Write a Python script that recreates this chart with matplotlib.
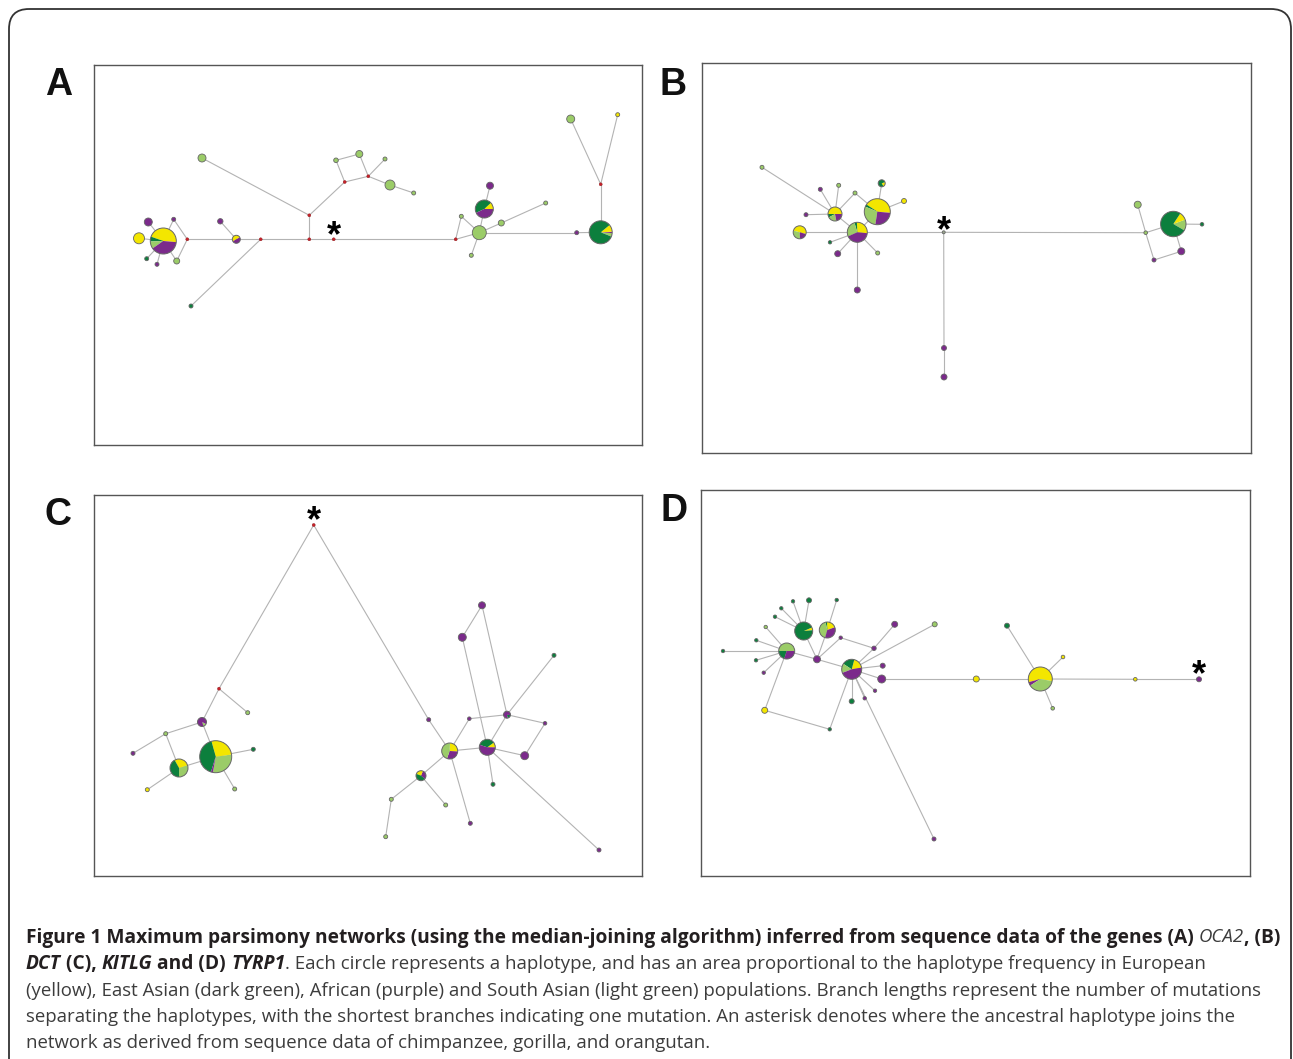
import matplotlib
matplotlib.use("Agg")
import matplotlib.pyplot as plt
from matplotlib.patches import Circle, Wedge, FancyBboxPatch

W, H = 1293, 1059

# population colours
COL = {"Y": "#f3e600", "D": "#0c7f3d", "P": "#7b2a8b", "L": "#9bcc68", "M": "#c8202a", "G": "#9aa890"}

# nodes: (x, y, radius, mix, start angle) -- mix is one population key or a list of (key, share)
A_NODES = [
    (163.3, 241.0, 13, [("Y", .46), ("D", .06), ("L", .09), ("P", .39)], -5),
    (139.0, 238.3, 5.5, "Y", 0), (148.3, 222.0, 4, "P", 0), (173.7, 219.3, 2, "P", 0),
    (146.7, 258.7, 2, "D", 0), (157.0, 264.3, 2, "P", 0), (176.7, 261.0, 3, "L", 0),
    (187.3, 239.3, 1.5, "M", 0),
    (236.3, 239.3, 4, [("Y", .5), ("P", .5)], 30),
    (220.3, 221.3, 2.7, "P", 0), (260.7, 239.3, 1.5, "M", 0), (191.0, 306.0, 2, "D", 0),
    (309.3, 239.3, 1.5, "M", 0), (309.3, 215.3, 1.5, "M", 0), (202.0, 158.0, 4, "L", 0),
    (344.7, 182.0, 1.5, "M", 0), (336.0, 160.3, 2.3, "L", 0), (359.3, 154.0, 3.5, "L", 0),
    (368.3, 176.3, 1.5, "M", 0), (385.0, 159.0, 2, "L", 0), (390.0, 185.0, 5, "L", 0),
    (413.7, 193.0, 2, "L", 0), (333.7, 239.3, 1.5, "M", 0), (455.7, 239.3, 1.5, "M", 0),
    (479.3, 232.7, 7, "L", 0), (461.3, 216.3, 2, "L", 0), (471.3, 255.3, 2, "L", 0),
    (484.3, 209.0, 9, [("Y", .12), ("D", .45), ("P", .43)], 0),
    (490.0, 185.7, 3.5, "P", 0), (501.3, 223.0, 3, "L", 0), (545.7, 203.0, 2, "L", 0),
    (576.7, 232.7, 2, "P", 0),
    (600.7, 232.3, 11.5, [("L", .05), ("P", .02), ("Y", .1), ("D", .83)], -22),
    (600.7, 184.3, 1.5, "M", 0), (570.7, 119.0, 4, "L", 0), (617.7, 114.7, 2, "Y", 0),
]
A_EDGES = [(0, 1), (0, 2), (0, 3), (0, 4), (0, 5), (0, 6), (3, 7), (6, 7), (7, 8), (8, 9),
           (8, 10), (10, 11), (10, 12), (12, 13), (13, 14), (13, 15), (15, 16), (16, 17),
           (17, 18), (15, 18), (18, 19), (18, 20), (20, 21), (12, 22), (22, 23), (23, 24),
           (23, 25), (25, 24), (24, 26), (24, 27), (27, 28), (24, 29), (29, 30), (24, 31),
           (31, 32), (32, 33), (33, 34), (33, 35)]
A_STAR = (333.7, 230.0)

B_NODES = [
    (762.0, 167.3, 2, "L", 0),
    (835.0, 214.0, 7, [("Y", .5), ("D", .08), ("L", .2), ("P", .22)], 0),
    (820.3, 189.3, 2, "P", 0), (838.7, 185.3, 2, "L", 0), (806.0, 214.7, 2, "P", 0),
    (855.0, 193.0, 2, "L", 0),
    (877.3, 211.7, 13, [("Y", .42), ("D", .03), ("L", .29), ("P", .26)], -5),
    (881.7, 183.3, 3.5, [("Y", .22), ("D", .78)], -60),
    (904.0, 201.0, 2.5, "Y", 0),
    (857.3, 232.3, 10, [("Y", .27), ("D", .04), ("L", .27), ("P", .42)], -5),
    (799.7, 232.3, 6.5, [("Y", .5), ("L", .3), ("P", .2)], -15),
    (830.0, 242.3, 1.7, "D", 0), (837.7, 253.7, 3, "P", 0), (877.7, 253.0, 2, "L", 0),
    (857.3, 290.0, 3, "P", 0), (943.7, 232.3, 1.5, "G", 0), (944.0, 348.0, 2.5, "P", 0),
    (944.0, 377.0, 3, "P", 0), (1145.7, 232.7, 1.8, "L", 0), (1137.7, 204.7, 3.5, "L", 0),
    (1154.0, 260.0, 2, "P", 0), (1181.3, 251.3, 3.5, "P", 0),
    (1173.3, 224.0, 12.7, [("L", .14), ("Y", .1), ("D", .76)], -30),
    (1202.0, 224.3, 1.8, "D", 0),
]
B_EDGES = [(0, 1), (2, 1), (3, 1), (4, 1), (1, 5), (5, 6), (7, 6), (8, 6), (9, 6), (1, 9),
           (10, 9), (9, 11), (9, 12), (9, 13), (9, 14), (9, 15), (15, 16), (16, 17), (15, 18),
           (18, 19), (18, 20), (20, 21), (21, 22), (18, 22), (22, 23)]
B_STAR = (944.3, 224.3)

C_NODES = [
    (313.7, 525.0, 1.5, "M", 0), (219.0, 688.7, 1.5, "M", 0), (247.7, 712.7, 2, "L", 0),
    (202.0, 722.0, 4.5, [("L", .12), ("P", .88)], -70),
    (165.7, 733.7, 2, "L", 0), (133.0, 753.3, 2, "P", 0),
    (179.0, 768.0, 9, [("L", .3), ("Y", .28), ("D", .42)], -90),
    (147.3, 789.7, 2, "Y", 0),
    (215.7, 756.7, 16, [("L", .3), ("Y", .27), ("D", .41), ("P", .02)], -100),
    (253.3, 749.3, 2, "D", 0), (234.7, 789.0, 2, "L", 0), (428.7, 719.7, 2, "P", 0),
    (449.7, 751.0, 8, [("P", .3), ("Y", .25), ("L", .45)], -110),
    (469.3, 718.7, 1.8, "P", 0),
    (507.0, 714.7, 3.5, [("D", .2), ("P", .8)], -80),
    (487.3, 747.3, 8, [("Y", .1), ("D", .35), ("P", .55)], 0),
    (554.0, 655.3, 2, "D", 0), (482.0, 605.3, 3.5, "P", 0), (462.3, 637.3, 4, "P", 0),
    (545.0, 723.3, 1.8, "P", 0), (524.7, 755.7, 4, "P", 0), (493.0, 784.3, 2, "D", 0),
    (599.0, 850.0, 2, "P", 0), (470.3, 823.3, 2, "P", 0),
    (421.0, 775.7, 5, [("P", .3), ("Y", .25), ("D", .45)], -40),
    (445.7, 805.0, 2, "L", 0), (391.3, 799.3, 2, "L", 0), (385.7, 836.7, 2, "L", 0),
]
C_EDGES = [(0, 1), (1, 2), (1, 3), (3, 4), (4, 5), (4, 6), (6, 7), (3, 8), (8, 6), (8, 9),
           (8, 10), (0, 11), (11, 12), (12, 13), (13, 14), (12, 15), (15, 14), (14, 16),
           (14, 17), (17, 18), (18, 15), (14, 19), (19, 20), (20, 15), (15, 21), (15, 22),
           (12, 23), (12, 24), (24, 25), (24, 26), (26, 27)]
C_STAR = (313.7, 515.0)

D_NODES = [
    (803.7, 631.0, 9, [("Y", .05), ("D", .95)], 5),
    (827.3, 630.0, 8, [("Y", .2), ("D", .03), ("L", .42), ("P", .35)], 20),
    (786.7, 651.0, 8, [("L", .5), ("D", .2), ("P", .3)], 0),
    (817.0, 659.3, 3.5, "P", 0),
    (851.7, 669.3, 10, [("Y", .18), ("D", .2), ("L", .15), ("P", .47)], 10),
    (881.7, 679.0, 4, "P", 0), (976.3, 679.0, 3, "Y", 0), (840.7, 637.7, 1.7, "P", 0),
    (874.0, 648.3, 2.2, "P", 0), (894.7, 624.3, 3, "P", 0), (934.7, 624.3, 2.5, "L", 0),
    (882.7, 665.7, 2.5, "P", 0), (875.0, 690.7, 1.7, "P", 0), (864.7, 698.3, 1.7, "P", 0),
    (851.7, 701.3, 2.5, "D", 0), (934.0, 839.0, 2, "P", 0), (829.7, 729.3, 1.7, "D", 0),
    (764.7, 710.3, 3, "Y", 0), (723.0, 651.0, 1.7, "D", 0), (756.3, 640.3, 1.7, "D", 0),
    (756.0, 660.3, 1.7, "D", 0), (763.7, 672.7, 1.7, "P", 0), (765.7, 627.0, 1.7, "L", 0),
    (775.0, 616.7, 1.7, "D", 0), (781.3, 608.3, 1.7, "D", 0), (793.0, 601.3, 1.7, "D", 0),
    (809.0, 600.3, 2.5, "D", 0), (836.7, 600.0, 1.7, "D", 0),
    (1040.3, 679.0, 12, [("Y", .57), ("P", .05), ("L", .38)], -10),
    (1007.0, 625.7, 2.5, "D", 0), (1063.0, 657.0, 1.8, "Y", 0), (1052.7, 708.3, 1.8, "L", 0),
    (1135.3, 679.3, 1.8, "Y", 0), (1199.0, 679.3, 2.5, "P", 0),
]
D_EDGES = [(2, 3), (0, 3), (1, 3), (3, 4), (3, 7), (7, 8), (8, 4), (8, 9), (4, 10), (4, 11),
           (4, 5), (4, 12), (4, 13), (4, 14), (4, 15), (4, 16), (16, 17), (17, 2), (2, 18),
           (2, 19), (2, 20), (2, 21), (2, 22), (0, 23), (0, 24), (0, 25), (0, 26), (1, 27),
           (5, 6), (6, 28), (28, 29), (28, 30), (28, 31), (28, 32), (32, 33)]
D_STAR = (1199.3, 668.3)

PANELS = [
    ("A", (94, 642, 65, 445), (59, 95), A_NODES, A_EDGES, A_STAR),
    ("B", (702, 1251, 63, 453), (673, 95), B_NODES, B_EDGES, B_STAR),
    ("C", (94, 642, 495, 876), (58, 525), C_NODES, C_EDGES, C_STAR),
    ("D", (701, 1250, 490, 876), (674, 521), D_NODES, D_EDGES, D_STAR),
]

CAPTION = [
    [("Figure 1 Maximum parsimony networks (using the median-joining algorithm) inferred from sequence data of the genes (A) ", "bold", "normal"),
     ("OCA2", "normal", "italic"), (", (B)", "bold", "normal")],
    [("DCT", "bold", "italic"), (" (C), ", "bold", "normal"), ("KITLG", "bold", "italic"),
     (" and (D) ", "bold", "normal"), ("TYRP1", "bold", "italic"),
     (". Each circle represents a haplotype, and has an area proportional to the haplotype frequency in European", "normal", "normal")],
    [("(yellow), East Asian (dark green), African (purple) and South Asian (light green) populations. Branch lengths represent the number of mutations", "normal", "normal")],
    [("separating the haplotypes, with the shortest branches indicating one mutation. An asterisk denotes where the ancestral haplotype joins the", "normal", "normal")],
    [("network as derived from sequence data of chimpanzee, gorilla, and orangutan.", "normal", "normal")],
]
CAPTION_BASE = [942.5, 969, 995.5, 1022, 1048.5]


def draw_node(ax, x, y, r, mix, start):
    if isinstance(mix, str):
        if mix == "M":
            ax.add_patch(Circle((x, y), r, fc=COL["M"], ec="#8a1a1a", lw=0.3, zorder=3))
        else:
            ax.add_patch(Circle((x, y), r, fc=COL[mix], ec="#666666", lw=0.6, zorder=3))
        return
    a = start
    for key, share in mix:
        b = a + share * 360
        # y axis is flipped, so screen angles are mirrored
        ax.add_patch(Wedge((x, y), r, -b, -a, fc=COL[key], ec="none", zorder=3))
        a = b
    ax.add_patch(Circle((x, y), r, fc="none", ec="#666666", lw=0.7, zorder=4))


fig = plt.figure(figsize=(W / 100, H / 100), dpi=100)

bg = fig.add_axes([0, 0, 1, 1])
bg.set_xlim(0, W)
bg.set_ylim(H, 0)
bg.axis("off")
bg.add_patch(FancyBboxPatch((9, 9), W - 11, H + 60, boxstyle="round,pad=0,rounding_size=20",
                            fc="none", ec="#333333", lw=1.3))

for label, (x0, x1, y0, y1), (lx, ly), nodes, edges, star in PANELS:
    bg.text(lx, ly, label, fontsize=27, fontweight="bold", family="Liberation Sans",
            ha="center", va="baseline", color="#111111")
    ax = fig.add_axes([x0 / W, 1 - y1 / H, (x1 - x0) / W, (y1 - y0) / H])
    ax.set_xlim(x0, x1)
    ax.set_ylim(y1, y0)
    ax.set_xticks([])
    ax.set_yticks([])
    for s in ax.spines.values():
        s.set_color("#555555")
        s.set_linewidth(1.0)
    for i, j in edges:
        ax.plot([nodes[i][0], nodes[j][0]], [nodes[i][1], nodes[j][1]],
                color="#b3b3b3", lw=0.8, zorder=1, solid_capstyle="round")
    for x, y, r, mix, start in nodes:
        draw_node(ax, x, y, r, mix, start)
    fs = 26
    ax.text(star[0], star[1] + 0.46 * fs * 100 / 72, "*", fontsize=fs, fontweight="bold",
            family="Liberation Sans", ha="center", va="baseline", color="black", zorder=5)

# caption, written piece by piece so bold / italic runs sit side by side
renderer = fig.canvas.get_renderer()
for pieces, base in zip(CAPTION, CAPTION_BASE):
    x = 26
    for txt, weight, style in pieces:
        t = bg.text(x, base, txt, fontsize=13.8 if weight == "bold" else 13.4,
                    family="Open Sans", fontweight=weight,
                    fontstyle=style, ha="left", va="baseline",
                    color="#231f20" if weight == "bold" else "#3c3c3c")
        bb = t.get_window_extent(renderer)
        x += bb.width

fig.savefig("out.png", dpi=100)
